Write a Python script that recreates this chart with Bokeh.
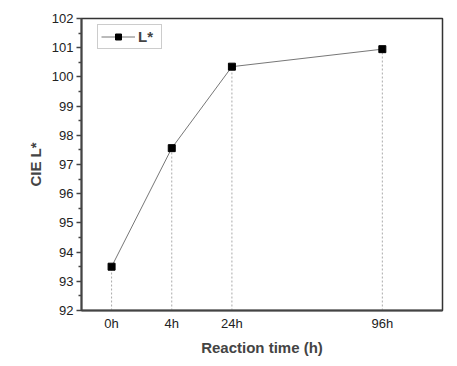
from bokeh.plotting import figure
from bokeh.models import Legend, LegendItem, FixedTicker, Range1d
from bokeh.embed import file_html
from bokeh.resources import INLINE

# data
categories = ["0h", "4h", "24h", "96h"]
x_pos = [1, 2, 3, 5.5]
l_star = [93.5, 97.56, 100.35, 100.95]
y_min, y_max = 92, 102
x_min, x_max = 0.5, 6.5
y_ticks = list(range(92, 103))

W, H = 449, 358
LEFT, TOP, RIGHT, BOTTOM = 81, 18, 7, 47
frame_h = H - TOP - BOTTOM

p = figure(width=W, height=H, output_backend="svg", toolbar_location=None,
           x_range=Range1d(x_min, x_max), y_range=Range1d(y_min, y_max),
           min_border_left=LEFT, min_border_right=RIGHT, min_border_top=TOP,
           min_border_bottom=BOTTOM)

p.xgrid.visible = False
p.ygrid.visible = False
p.background_fill_color = "white"
p.border_fill_color = "white"
p.outline_line_color = "#333333"
p.outline_line_width = 1.5

# drop lines
p.segment(x0=x_pos, y0=[y_min] * len(x_pos), x1=x_pos, y1=l_star,
          line_color="#aaaaaa", line_width=1, line_dash="2 2")

ln = p.line(x_pos, l_star, line_color="#777777", line_width=1)
sc = p.scatter(x_pos, l_star, marker="square", size=7, fill_color="black", line_color="black")

legend = Legend(items=[LegendItem(label="L*", renderers=[ln, sc])],
                location=(16, frame_h - 11 - 21))
legend.glyph_width = 34
legend.glyph_height = 15
legend.label_text_font = "Liberation Sans"
legend.label_text_font_style = "bold"
legend.label_text_font_size = "15px"
legend.label_standoff = 3
legend.padding = 3
legend.spacing = 0
legend.margin = 0
legend.border_line_color = "#999999"
legend.border_line_width = 1
legend.background_fill_alpha = 1
p.add_layout(legend)

# y axis
p.yaxis.ticker = FixedTicker(ticks=y_ticks, minor_ticks=[v + 0.5 for v in y_ticks[:-1]])
p.yaxis.axis_label = "CIE L*"
p.yaxis.axis_label_text_font = "Liberation Sans"
p.yaxis.axis_label_text_font_style = "bold"
p.yaxis.axis_label_text_font_size = "15px"
p.yaxis.axis_label_standoff = 5
p.yaxis.major_label_text_font = "Liberation Sans"
p.yaxis.major_label_text_font_size = "13px"
p.yaxis.major_label_text_color = "#222222"
p.yaxis.major_label_standoff = 3
p.yaxis.axis_line_width = 2
p.yaxis.axis_line_color = "#444444"
p.yaxis.major_tick_line_color = "#444444"
p.yaxis.major_tick_line_width = 1.5
p.yaxis.major_tick_out = 5
p.yaxis.major_tick_in = 0
p.yaxis.minor_tick_line_color = "#444444"
p.yaxis.minor_tick_line_width = 1.5
p.yaxis.minor_tick_out = 3
p.yaxis.minor_tick_in = 0

# x axis
p.xaxis.ticker = FixedTicker(ticks=x_pos, minor_ticks=[])
p.xaxis.major_label_overrides = {x: c for x, c in zip(x_pos, categories)}
p.xaxis.axis_label = "Reaction time (h)"
p.xaxis.axis_label_text_font = "Liberation Sans"
p.xaxis.axis_label_text_font_style = "bold"
p.xaxis.axis_label_text_font_size = "15px"
p.xaxis.axis_label_standoff = 5
p.xaxis.major_label_text_font = "Liberation Sans"
p.xaxis.major_label_text_font_size = "13px"
p.xaxis.major_label_text_color = "#222222"
p.xaxis.major_label_standoff = 5
p.xaxis.axis_line_width = 2
p.xaxis.axis_line_color = "#444444"
p.xaxis.major_tick_line_color = None
p.xaxis.major_tick_out = 0
p.xaxis.major_tick_in = 0
p.xaxis.minor_tick_line_color = None

open("out.html", "w").write(file_html(p, INLINE))
